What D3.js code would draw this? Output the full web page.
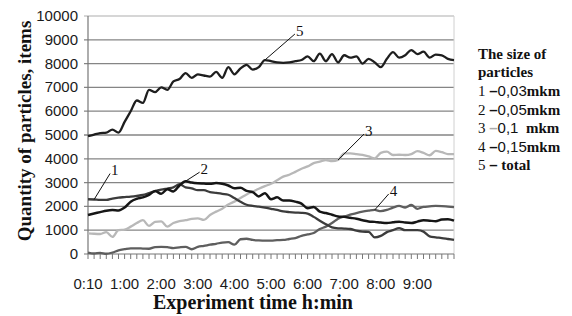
<!DOCTYPE html>
<html>
<head>
<meta charset="utf-8">
<script src="https://cdn.jsdelivr.net/npm/d3@7"></script>
<style>
  body { margin: 0; background: #fff; }
  svg { display: block; }
</style>
</head>
<body>
<div id="chart"></div>
<script>
// ========================
// Data
// ========================
const tickLabels = ["0:10", "1:00", "2:00", "3:00", "4:00", "5:00", "6:00", "7:00", "8:00", "9:00"];
const yTicks = [0, 1000, 2000, 3000, 4000, 5000, 6000, 7000, 8000, 9000, 10000];

// 0,03 mkm
const size1 = [2300, 2290, 2270, 2270, 2330, 2370, 2390, 2410, 2440, 2480,
  2560, 2640, 2700, 2750, 2800, 2930, 2800, 2760, 2680, 2680,
  2600, 2570, 2530, 2490, 2350, 2200, 2070, 2020, 1990, 1950,
  1900, 1850, 1790, 1760, 1740, 1730, 1700, 1560, 1400, 1250,
  1120, 1080, 1070, 1050, 980, 940, 930, 700, 760, 920,
  1000, 1090, 1000, 1000, 1000, 940, 740, 700, 670, 630, 590];
// 0,05 mkm
const size2 = [1640, 1700, 1760, 1820, 1850, 1830, 1950, 2200, 2320, 2380,
  2480, 2650, 2530, 2720, 2630, 2880, 3060, 3000, 2970, 2960,
  2950, 2980, 2950, 2880, 2760, 2780, 2650, 2600, 2420, 2550,
  2300, 2380, 2250, 2250, 2200, 2120, 1920, 1980, 1780, 1720,
  1650, 1580, 1560, 1520, 1480, 1420, 1370, 1350, 1320, 1300,
  1330, 1360, 1320, 1300, 1360, 1420, 1400, 1380, 1450, 1460, 1400];
// 0,1 mkm
const size3 = [870, 850, 840, 920, 720, 1000, 1020, 1150, 1300, 1420,
  1180, 1350, 1370, 1150, 1300, 1380, 1420, 1480, 1500, 1430,
  1640, 1780, 1900, 2080, 2200, 2350, 2500, 2620, 2740, 2850,
  2950, 3100, 3250, 3330, 3450, 3580, 3680, 3820, 3880, 3950,
  3900, 3950, 4230, 4230, 4200, 4160, 4100, 4020, 4250, 4300,
  4160, 4170, 4160, 4200, 4320, 4250, 4150, 4330, 4280, 4200, 4200];
// 0,15 mkm
const size4 = [60, 20, 50, 10, 60, 150, 200, 240, 240, 230,
  220, 290, 300, 290, 250, 280, 300, 200, 300, 340,
  390, 430, 480, 500, 390, 620, 640, 590, 570, 560,
  560, 580, 590, 630, 670, 760, 820, 880, 1050, 1150,
  1300, 1480, 1580, 1650, 1720, 1780, 1820, 1850, 1800, 1850,
  1950, 2020, 1950, 2060, 1900, 1980, 2000, 2020, 2010, 1990, 1970];
// total
const total = [4950, 5020, 5080, 5100, 5230, 5100, 5550, 6000, 6450, 6350,
  6900, 6800, 7000, 6900, 7250, 7350, 7600, 7400, 7550, 7500,
  7450, 7650, 7400, 7850, 7550, 7800, 7950, 7750, 7850, 8150,
  8100, 8050, 8030, 8050, 8100, 8150, 8300, 8100, 8420, 8100,
  8400, 8050, 8350, 8250, 8300, 8000, 8200, 8050, 7850, 8200,
  8480, 8250, 8350, 8570, 8400, 8500, 8250, 8380, 8350, 8200, 8150];

const legendTitle = ["The size of", "particles"];
const legendRows = [
  { num: "1", val: "0,03", unit: "mkm" },
  { num: "2", val: "0,05", unit: "mkm" },
  { num: "3", val: "0,1", unit: "\u00a0\u00a0mkm" },
  { num: "4", val: "0,15", unit: "mkm" },
  { num: "5", val: "", unit: " total" }
];

// ========================
// Setup
// ========================
const width = 572, height = 316;
const margin = { left: 88, right: 118, top: 16, bottom: 62 };
const innerW = width - margin.left - margin.right;
const innerH = height - margin.top - margin.bottom;

const svg = d3.select("#chart").append("svg")
  .attr("width", width)
  .attr("height", height);

const g = svg.append("g")
  .attr("transform", `translate(${margin.left},${margin.top})`);

const idx = d3.range(total.length);
const x = d3.scalePoint().domain(idx).range([0, innerW]);
const y = d3.scaleLinear().domain([0, 10000]).range([innerH, 0]);

// Grid lines
g.selectAll("line.grid")
  .data(yTicks.filter(d => d > 0))
  .enter().append("line")
  .attr("class", "grid")
  .attr("x1", -4).attr("x2", innerW)
  .attr("y1", d => y(d)).attr("y2", d => y(d))
  .attr("stroke", d => d === 10000 ? "#c8c8c8" : "#858585")
  .attr("stroke-width", 1.3);

// right border
g.append("line")
  .attr("x1", innerW).attr("x2", innerW)
  .attr("y1", 0).attr("y2", innerH)
  .attr("stroke", "#d0d0d0");

// Y axis labels
g.selectAll("text.ytick")
  .data(yTicks)
  .enter().append("text")
  .attr("x", -10)
  .attr("y", d => y(d) + 5)
  .attr("text-anchor", "end")
  .style("font-family", "'Liberation Sans', Arial, sans-serif")
  .style("font-size", "15px")
  .attr("fill", "#1a1a1a")
  .text(d => d);

// Y axis line
g.append("line")
  .attr("x1", 0).attr("x2", 0)
  .attr("y1", 0).attr("y2", innerH)
  .attr("stroke", "#777").attr("stroke-width", 1.2);

// X axis line + ticks
g.append("line")
  .attr("x1", -4).attr("x2", innerW)
  .attr("y1", innerH).attr("y2", innerH)
  .attr("stroke", "#777").attr("stroke-width", 1.2);

g.selectAll("line.xtick")
  .data(idx)
  .enter().append("line")
  .attr("x1", d => x(d)).attr("x2", d => x(d))
  .attr("y1", innerH).attr("y2", innerH + 5)
  .attr("stroke", "#777");

g.selectAll("text.xtick")
  .data(tickLabels)
  .enter().append("text")
  .attr("x", (d, i) => x(i * 6))
  .attr("y", innerH + 35)
  .attr("text-anchor", "middle")
  .style("font-family", "'Liberation Sans', Arial, sans-serif")
  .style("font-size", "15px")
  .attr("fill", "#1a1a1a")
  .text(d => d);

// Axis titles
svg.append("text")
  .attr("transform", `translate(31,${margin.top + innerH / 2 - 4}) rotate(-90)`)
  .attr("text-anchor", "middle")
  .style("font-family", "'Liberation Serif', 'Times New Roman', serif")
  .style("font-weight", "bold")
  .style("font-size", "19px")
  .attr("fill", "#111")
  .text("Quantity of particles, items");

svg.append("text")
  .attr("x", 253)
  .attr("y", 309)
  .attr("text-anchor", "middle")
  .style("font-family", "'Liberation Serif', 'Times New Roman', serif")
  .style("font-weight", "bold")
  .style("font-size", "20px")
  .attr("fill", "#111")
  .text("Experiment time h:min");

// ========================
// Lines
// ========================
const line = d3.line()
  .x((d, i) => x(i))
  .y(d => y(d))
  .curve(d3.curveMonotoneX);

const series = [
  { values: size3, color: "#b8b8b8", w: 2.3 },
  { values: size4, color: "#5e5e5e", w: 2.3 },
  { values: size1, color: "#3c3c3c", w: 2.3 },
  { values: size2, color: "#161616", w: 2.5 },
  { values: total, color: "#1e1e1e", w: 2.3 }
];

g.selectAll("path.series")
  .data(series)
  .enter().append("path")
  .attr("fill", "none")
  .attr("stroke", d => d.color)
  .attr("stroke-width", d => d.w)
  .attr("stroke-linejoin", "round")
  .attr("d", d => line(d.values));

// Callout labels (number + pointer to a data point)
const callouts = [
  { label: "1", values: size1, i: 1, dx: 16, dy: -26 },
  { label: "2", values: size2, i: 16, dx: 14, dy: -9 },
  { label: "3", values: size3, i: 41, dx: 26, dy: -26 },
  { label: "4", values: size4, i: 47, dx: 14, dy: -16 },
  { label: "5", values: total, i: 29, dx: 30, dy: -26 }
];

callouts.forEach(c => {
  const px = x(c.i), py = y(c.values[c.i]);
  g.append("line")
    .attr("x1", px).attr("y1", py)
    .attr("x2", px + c.dx).attr("y2", py + c.dy)
    .attr("stroke", "#111").attr("stroke-width", 1);
  g.append("text")
    .attr("x", px + c.dx + 1)
    .attr("y", py + c.dy + 2)
    .style("font-family", "'Liberation Serif', 'Times New Roman', serif")
    .style("font-size", "15px")
    .attr("fill", "#111")
    .text(c.label);
});

// ========================
// Legend
// ========================
const legend = svg.append("g").attr("transform", "translate(478,0)");
const serif = "'Liberation Serif', 'Times New Roman', serif";
const sans = "'Liberation Sans', Arial, sans-serif";

legendTitle.forEach((t, i) => {
  legend.append("text")
    .attr("x", 0).attr("y", 59 + i * 18)
    .style("font-family", serif)
    .style("font-weight", "bold")
    .style("font-size", "15px")
    .attr("fill", "#111")
    .text(t);
});

legendRows.forEach((r, i) => {
  const t = legend.append("text")
    .attr("x", 0).attr("y", 96 + i * 18.5)
    .style("font-size", "15px")
    .attr("fill", "#111");
  t.append("tspan").style("font-family", serif).text(r.num + " ");
  t.append("tspan").style("font-family", sans).style("font-weight", "bold")
    .attr("fill", i === 2 ? "#aaa" : "#111").text("\u2013");
  if (r.val) t.append("tspan").style("font-family", sans).text(r.val);
  t.append("tspan").style("font-family", serif).style("font-weight", "bold").text(r.unit);
});
</script>
</body>
</html>
